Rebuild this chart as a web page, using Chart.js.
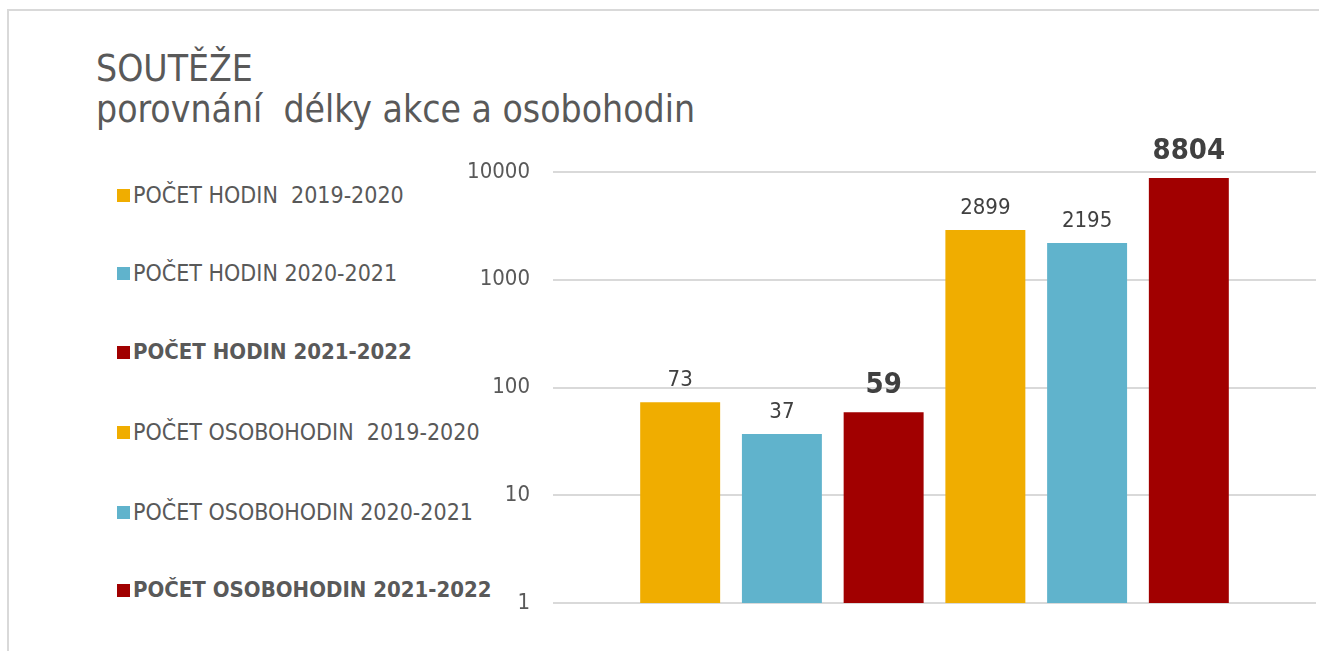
<!DOCTYPE html>
<html>
<head>
<meta charset="utf-8">
<script src="https://cdn.jsdelivr.net/npm/chart.js@4"></script>
<style>
  html, body { margin: 0; padding: 0; background: #fff; overflow: hidden; }
  body { width: 1319px; height: 651px; position: relative; font-family: 'DejaVu Sans Condensed', 'DejaVu Sans', sans-serif; color: #595959; }
  .line-top { position: absolute; left: 7px; top: 9px; width: 1312px; height: 2px; background: #d9d9d9; }
  .line-left { position: absolute; left: 7px; top: 9px; width: 2px; height: 642px; background: #d9d9d9; }
  .title { position: absolute; left: 96px; top: 48px; font-size: 37px; line-height: 41px; }
  .legend { position: absolute; left: 117px; top: 0; }
  .legend-item { position: absolute; left: 0; white-space: pre; font-size: 23px; line-height: 24px; height: 24px; }
  .legend-item.bold { font-size: 22px; font-weight: bold; }
  .legend-item span.box { position: absolute; left: 0; top: 6px; width: 13px; height: 13px; }
  .legend-item span.txt { position: absolute; left: 16px; top: 0; }
  .chart-wrap { position: absolute; left: 440px; top: 120px; width: 879px; height: 520px; }
</style>
</head>
<body>
<div class="line-top"></div>
<div class="line-left"></div>
<div class="title">SOUTĚŽE<br>porovnání&nbsp; délky akce a osobohodin</div>
<div class="legend" id="legend"></div>
<div class="chart-wrap"><canvas id="chart"></canvas></div>
<script>
const seriesNames = [
  'POČET HODIN  2019-2020',
  'POČET HODIN 2020-2021',
  'POČET HODIN 2021-2022',
  'POČET OSOBOHODIN  2019-2020',
  'POČET OSOBOHODIN 2020-2021',
  'POČET OSOBOHODIN 2021-2022'
];
const seriesValues = [73, 37, 59, 2899, 2195, 8804];
const seriesColors = ['#f0ad00', '#60b3cc', '#a10000', '#f0ad00', '#60b3cc', '#a10000'];
const seriesBold = [false, false, true, false, false, true];
const tickValues = [1, 10, 100, 1000, 10000];

const legendTops = [183, 261, 340, 420, 500, 578];
const legend = document.getElementById('legend');
seriesNames.forEach((name, i) => {
  const item = document.createElement('div');
  item.className = 'legend-item' + (seriesBold[i] ? ' bold' : '');
  item.style.top = legendTops[i] + 'px';
  item.innerHTML = `<span class="box" style="background:${seriesColors[i]}"></span><span class="txt">${name}</span>`;
  legend.appendChild(item);
});

// popisky hodnot nad sloupci
const valueLabels = {
  id: 'valueLabels',
  afterDatasetsDraw(chart) {
    const ctx = chart.ctx;
    ctx.save();
    ctx.textAlign = 'center';
    ctx.textBaseline = 'bottom';
    chart.data.datasets.forEach((ds, i) => {
      const bar = chart.getDatasetMeta(i).data[0];
      const bold = seriesBold[i];
      ctx.font = (bold ? 'bold 29px' : '22px') + " 'DejaVu Sans Condensed', sans-serif";
      ctx.fillStyle = '#404040';
      ctx.fillText(String(ds.data[0]), bar.x, bar.y - (bold ? 12 : 11));
    });
    ctx.restore();
  }
};

new Chart(document.getElementById('chart'), {
  type: 'bar',
  data: {
    labels: [''],
    datasets: seriesNames.map((name, i) => ({
      label: name,
      data: [seriesValues[i]],
      backgroundColor: seriesColors[i],
      borderWidth: 0,
      categoryPercentage: 0.8,
      barPercentage: 0.786
    }))
  },
  options: {
    responsive: true,
    maintainAspectRatio: false,
    animation: false,
    layout: { padding: { top: 52, bottom: 29, right: 3, left: 0 } },
    plugins: { legend: { display: false }, tooltip: { enabled: false } },
    scales: {
      x: {
        grid: { display: false },
        border: { display: false },
        ticks: { display: false }
      },
      y: {
        type: 'logarithmic',
        min: 1,
        max: 10000,
        afterBuildTicks: scale => { scale.ticks = tickValues.map(v => ({ value: v })); },
        afterFit: scale => { scale.width = 113; },
        grid: { color: '#d9d9d9', lineWidth: 2, drawTicks: false },
        border: { display: false },
        ticks: {
          padding: 23,
          color: '#595959',
          font: { family: "'DejaVu Sans Condensed', sans-serif", size: 22 },
          callback: v => String(v)
        }
      }
    }
  },
  plugins: [valueLabels]
});
</script>
</body>
</html>
